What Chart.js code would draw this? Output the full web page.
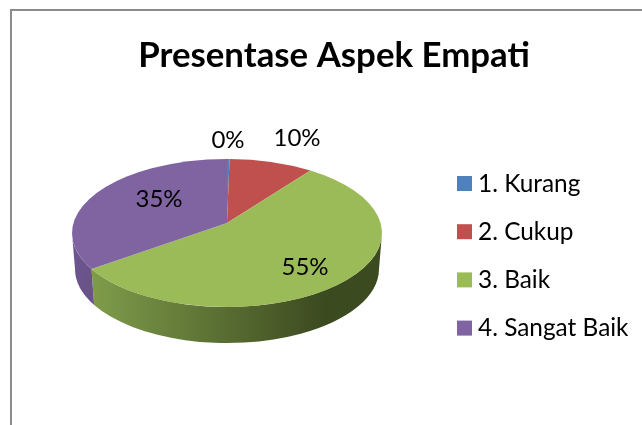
<!DOCTYPE html>
<html>
<head>
<meta charset="utf-8">
<style>
    html, body { margin: 0; background: #fff; }
    canvas { display: block; }
</style>
<script src="https://cdn.jsdelivr.net/npm/chart.js@4"></script>
</head>
<body>
<canvas id="pie-chart" width="642" height="425"></canvas>
<script>
const categories = ['1. Kurang', '2. Cukup', '3. Baik', '4. Sangat Baik'];
const values = [0.3, 10, 55, 35];
const colors = ['#4f81bd', '#c0504d', '#9bbb59', '#8064a2'];
const wallColors = [
    ['#3f6797', '#2a4566'],
    ['#9a403d', '#662a29'],
    ['#7f9c4a', '#3c4a20'],
    ['#6d5590', '#6a5388']
];
// where each percent label sits, relative to the pie centre
const labelOffsets = [[1, -93], [70, -95], [78, 34], [-68, -34]];

// pie geometry, 3d look
const pie = { cx: 227, cy: 233, rx: 155, ry: 74, apex: 0.135, botY: 269, botRx: 152 };
const font = 'Lato, sans-serif';

// circle angle (from top, clockwise) -> angle on the tilted rim, with perspective
function rimAngle(a) {
    const u = Math.sin(a), v = Math.cos(a), k = pie.apex;
    const d = 1 + k * v;
    return Math.atan2(u * Math.sqrt(1 - k * k) / d, (v + k) / d);
}

function sliceAngles(arc) {
    const start = arc.startAngle + Math.PI / 2;
    const end = arc.endAngle + Math.PI / 2;
    let a = rimAngle(start), b = rimAngle(end);
    if (a < 0) a += Math.PI * 2;
    if (b <= a) b += Math.PI * 2;
    return [a, b];
}

const pie3d = {
    id: 'pie3d',
    beforeDraw(chart) {
        const ctx = chart.ctx;
        ctx.save();
        ctx.strokeStyle = '#8c8c8c';
        ctx.lineWidth = 2;
        ctx.strokeRect(11, 10, 800, 600);
        ctx.restore();
    },
    beforeDatasetDraw(chart) {
        const ctx = chart.ctx;
        const arcs = chart.getDatasetMeta(0).data;
        ctx.save();
        // side wall, front half only
        arcs.forEach((arc, i) => {
            const [a, b] = sliceAngles(arc);
            const from = Math.max(a, Math.PI / 2);
            const to = Math.min(b, Math.PI * 1.5);
            if (to <= from) return;
            const x1 = pie.cx + pie.rx * Math.sin(to), x2 = pie.cx + pie.rx * Math.sin(from);
            const g = ctx.createLinearGradient(x1, 0, x2, 0);
            g.addColorStop(0, wallColors[i][0]);
            g.addColorStop(0.8, wallColors[i][1]);
            g.addColorStop(1, wallColors[i][1]);
            ctx.fillStyle = g;
            ctx.beginPath();
            ctx.ellipse(pie.cx, pie.cy, pie.rx, pie.ry, 0, from - Math.PI / 2, to - Math.PI / 2);
            ctx.ellipse(pie.cx, pie.botY, pie.botRx, pie.ry, 0, to - Math.PI / 2, from - Math.PI / 2, true);
            ctx.closePath();
            ctx.fill();
        });
        // top face
        const apexY = pie.cy - pie.apex * pie.ry;
        arcs.forEach((arc, i) => {
            const [a, b] = sliceAngles(arc);
            ctx.fillStyle = colors[i];
            ctx.beginPath();
            ctx.moveTo(pie.cx, apexY);
            ctx.ellipse(pie.cx, pie.cy, pie.rx, pie.ry, 0, a - Math.PI / 2, b - Math.PI / 2);
            ctx.closePath();
            ctx.fill();
        });
        ctx.restore();
        return false;
    },
    afterDatasetsDraw(chart) {
        const ctx = chart.ctx;
        const total = values.reduce((s, v) => s + v, 0);
        ctx.save();
        ctx.fillStyle = '#000';
        ctx.font = '24px ' + font;
        ctx.textAlign = 'center';
        ctx.textBaseline = 'middle';
        values.forEach((v, i) => {
            const txt = Math.round(v / total * 100) + '%';
            ctx.fillText(txt, pie.cx + labelOffsets[i][0], pie.cy + labelOffsets[i][1]);
        });
        // legend
        ctx.font = '24.4px ' + font;
        ctx.textAlign = 'left';
        categories.forEach((name, i) => {
            const y = 184 + i * 48.2;
            ctx.fillStyle = colors[i];
            ctx.fillRect(457, y - 8, 15, 15);
            ctx.fillStyle = '#000';
            ctx.fillText(name, 478, y);
        });
        ctx.restore();
    }
};

const ctx = document.getElementById('pie-chart');
new Chart(ctx, {
    type: 'pie',
    data: {
        labels: categories,
        datasets: [{ data: values, backgroundColor: colors, borderWidth: 0 }]
    },
    options: {
        responsive: false,
        animation: false,
        layout: { padding: { left: 26, top: 25 } },
        plugins: {
            legend: { display: false },
            tooltip: { enabled: false },
            title: {
                display: true,
                text: 'Presentase Aspek Empati',
                color: '#000',
                font: { family: font, size: 34.8, weight: 'bold' }
            }
        }
    },
    plugins: [pie3d]
});
</script>
</body>
</html>
